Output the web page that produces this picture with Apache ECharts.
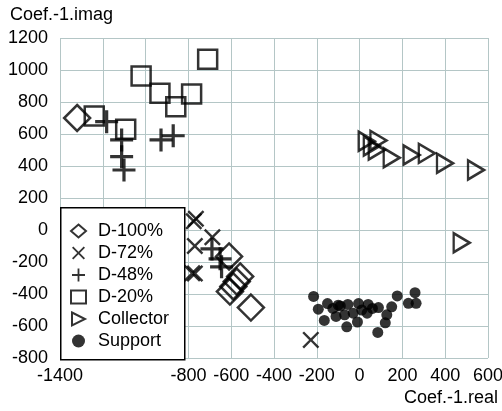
<!DOCTYPE html>
<html>
<head>
<meta charset="utf-8">
<script src="https://cdn.jsdelivr.net/npm/echarts@6/dist/echarts.min.js"></script>
<style>html,body{margin:0;padding:0;background:#fff}#c{width:502px;height:411px}</style>
</head>
<body>
<div id="c"></div>
<script>
const xTitle = 'Coef.-1.real';
const yTitle = 'Coef.-1.imag';
const hiddenXTicks = [-1200, -1000];
const seriesNames = ['D-100%', 'D-72%', 'D-48%', 'D-20%', 'Collector', 'Support'];

const d100 = [[-1320,700],[-610,-165],[-558,-290],[-574,-322],[-590,-353],[-606,-385],[-508,-485]];
const d72 = [[-775,55],[-765,70],[-770,-100],[-688,-45],[-782,-270],[-770,-272],[-228,-687]];
const d48 = [[-1182,677],[-1112,563],[-1112,458],[-1101,375],[-928,563],[-871,589],[-690,-118],[-652,-180],[-645,-230]];
const d20 = [[-1240,712],[-1093,629],[-1021,962],[-933,854],[-859,771],[-785,850],[-710,1067]];
const collector = [[33,555],[88,560],[57,525],[80,500],[150,452],[243,469],[314,479],[399,417],[544,375],[477,-80]];
const support = [[-215,-415],[-193,-495],[-165,-565],[-150,-460],[-125,-490],[-110,-540],[-90,-475],[-70,-530],[-55,-465],[-60,-605],[-30,-520],[-5,-460],[-10,-575],[40,-465],[35,-520],[60,-490],[88,-485],[85,-640],[120,-580],[127,-530],[150,-480],[176,-412],[228,-458],[259,-392],[264,-458],[-100,-470],[10,-500]];

const PLUS = 'path://M43,0H57V43H100V57H57V100H43V57H0V43H43Z';
const CROSS = 'path://M0,10L10,0L50,40L90,0L100,10L60,50L100,90L90,100L50,60L10,100L0,90L40,50Z';
const TRI = 'path://M0,0L100,50L0,100Z';
const hollow = {color: 'rgba(0,0,0,0)', borderColor: '#000', borderWidth: 2.5};
const solid = {color: '#000', borderWidth: 0};
const FONT = 'Liberation Sans, Arial, sans-serif';

const chart = echarts.init(document.getElementById('c'), null, {renderer: 'canvas'});
chart.setOption({
  animation: false,
  backgroundColor: '#fff',
  grid: {left: 60, top: 38, right: 14, bottom: 53, containLabel: false, outerBoundsMode: 'none'},
  xAxis: {
    type: 'value', min: -1400, max: 600, interval: 200,
    axisLine: {show: false}, axisTick: {show: false},
    axisLabel: {fontSize: 18, color: '#000', fontFamily: FONT, margin: 9,
      formatter: v => hiddenXTicks.includes(v) ? '' : String(v)},
    splitLine: {show: true, lineStyle: {color: '#b4c6c6', width: 1}}
  },
  yAxis: {
    type: 'value', min: -800, max: 1200, interval: 200,
    axisLine: {show: false}, axisTick: {show: false},
    axisLabel: {fontSize: 18, color: '#000', fontFamily: FONT, margin: 12,
      formatter: v => String(v)},
    splitLine: {show: true, lineStyle: {color: '#b4c6c6', width: 1}}
  },
  legend: {
    orient: 'vertical', left: 70, top: 220, padding: 0,
    itemWidth: 15, itemHeight: 13, itemGap: 0,
    textStyle: {fontSize: 18, lineHeight: 22, height: 22, color: '#000', fontFamily: FONT, padding: [0, 0, 0, 7]},
    data: seriesNames, z: 10
  },
  graphic: [
    {type: 'rect', left: 60, top: 207, shape: {width: 124, height: 152},
     style: {fill: '#fff', stroke: '#000', lineWidth: 1.5}, z: 5},
    {type: 'text', left: 10, top: 6, style: {text: yTitle, fontSize: 18, fill: '#000', fontFamily: FONT}},
    {type: 'text', right: 4, top: 389, style: {text: xTitle, fontSize: 18, fill: '#000', fontFamily: FONT}}
  ],
  series: [
    {name: seriesNames[0], type: 'scatter', data: d100, symbol: 'diamond', symbolSize: 26, itemStyle: hollow},
    {name: seriesNames[1], type: 'scatter', data: d72, symbol: CROSS, symbolSize: 17, itemStyle: solid},
    {name: seriesNames[2], type: 'scatter', data: d48, symbol: PLUS, symbolSize: 23, itemStyle: solid},
    {name: seriesNames[3], type: 'scatter', data: d20, symbol: 'rect', symbolSize: 19, itemStyle: hollow},
    {name: seriesNames[4], type: 'scatter', data: collector, symbol: TRI, symbolSize: [16, 19], itemStyle: hollow},
    {name: seriesNames[5], type: 'scatter', data: support, symbol: 'circle', symbolSize: 11, itemStyle: solid}
  ]
});
</script>
</body>
</html>
